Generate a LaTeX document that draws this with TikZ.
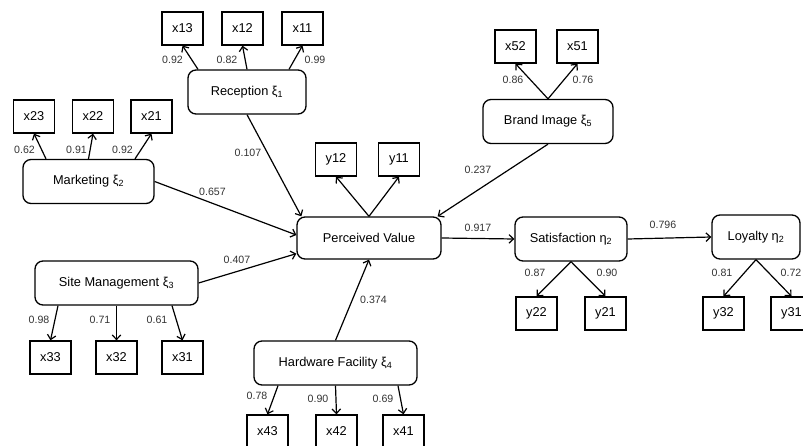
\documentclass[tikz,border=0pt]{standalone}
\usepackage{fontspec}
\setmainfont{Liberation Sans}
\usetikzlibrary{arrows.meta,positioning}

\begin{document}
\begin{tikzpicture}[x=1pt,y=-1pt,
		latent/.style={draw, line width=1.3pt, rounded corners=8pt, minimum height=44pt, inner sep=0pt, font=\fontsize{12.8}{14}\selectfont},
		item/.style={draw, line width=1.3pt, minimum width=41pt, minimum height=33pt, inner sep=0pt, font=\fontsize{12.8}{14}\selectfont},
		coef/.style={inner sep=0pt, text=black!80, font=\fontsize{10.6}{12}\selectfont},
		conn/.style={line width=1.2pt, -{Straight Barb[length=4.5pt,width=8.5pt]}}]
		\useasboundingbox (0,0) rectangle (803,446);
		\node [latent, minimum width=118pt](rec) at (247,92) {Reception ξ\textsubscript{1}};
		\node [latent, minimum width=131pt](mkt) at (88.5,181.5) {Marketing ξ\textsubscript{2}};
		\node [latent, minimum width=163pt](site) at (116.5,283) {Site Management ξ\textsubscript{3}};
		\node [latent, minimum width=163pt](hw) at (335.5,363) {Hardware Facility ξ\textsubscript{4}};
		\node [latent, minimum width=130pt](brand) at (548,121.5) {Brand Image ξ\textsubscript{5}};
		\node [latent, minimum width=144pt, minimum height=42pt](pv) at (369,238) {Perceived Value};
		\node [latent, minimum width=112pt](sat) at (571,239) {Satisfaction η\textsubscript{2}};
		\node [latent, minimum width=88pt](loy) at (756,237) {Loyalty η\textsubscript{2}};
		\node [item](x13) at (182.5,28.5) {x13};
		\node [item](x12) at (242.5,28.5) {x12};
		\node [item](x11) at (302.5,28.5) {x11};
		\node [item](x23) at (34,116.5) {x23};
		\node [item](x22) at (93,116.5) {x22};
		\node [item](x21) at (151.5,116.5) {x21};
		\node [item](x52) at (515.5,46.5) {x52};
		\node [item](x51) at (577.5,46.5) {x51};
		\node [item](y12) at (336,159.5) {y12};
		\node [item](y11) at (399,159.5) {y11};
		\node [item](y22) at (536.5,313.5) {y22};
		\node [item](y21) at (605.5,313.5) {y21};
		\node [item](y32) at (723.5,313.5) {y32};
		\node [item](y31) at (791.5,313.5) {y31};
		\node [item](x33) at (50.5,357.5) {x33};
		\node [item](x32) at (116.5,357.5) {x32};
		\node [item](x31) at (182.5,357.5) {x31};
		\node [item](x43) at (267.5,431.5) {x43};
		\node [item](x42) at (336.5,431.5) {x42};
		\node [item](x41) at (403.5,431.5) {x41};
		\draw [conn] ([xshift=-49pt]rec.north) -- (x13.south);
		\draw [conn] (rec.north) -- (x12.south);
		\draw [conn] ([xshift=42pt]rec.north) -- (x11.south);
		\draw [conn] ([xshift=-42.5pt]mkt.north) -- (x23.south);
		\draw [conn] (mkt.north) -- (x22.south);
		\draw [conn] ([xshift=46.5pt]mkt.north) -- (x21.south);
		\draw [conn] (brand.north) -- (x52.south);
		\draw [conn] (brand.north) -- (x51.south);
		\draw [conn] (pv.north) -- (y12.south);
		\draw [conn] (pv.north) -- (y11.south);
		\draw [conn] (sat.south) -- (y22.north);
		\draw [conn] (sat.south) -- (y21.north);
		\draw [conn] (loy.south) -- (y32.north);
		\draw [conn] (loy.south) -- (y31.north);
		\draw [conn] ([xshift=-58.5pt]site.south) -- (x33.north);
		\draw [conn] (site.south) -- (x32.north);
		\draw [conn] ([xshift=55.5pt]site.south) -- (x31.north);
		\draw [conn] ([xshift=-57.5pt]hw.south) -- (x43.north);
		\draw [conn] (hw.south) -- (x42.north);
		\draw [conn] ([xshift=62.5pt]hw.south) -- (x41.north);
		\draw [conn] (rec.south) -- ([xshift=5pt]pv.north west);
		\draw [conn] (mkt.east) -- ([yshift=3pt]pv.west);
		\draw [conn] (site.east) -- ([yshift=6pt]pv.south west);
		\draw [conn] (hw.north) -- (pv.south);
		\draw [conn] (brand.south) -- ([xshift=-4pt]pv.north east);
		\draw [conn] (pv.east) -- (sat.west);
		\draw [conn] (sat.east) -- (loy.west);
		\node [coef](l13) at (172.5,60) {0.92};
		\node [coef](l12) at (227,60) {0.82};
		\node [coef](l11) at (315,60) {0.99};
		\node [coef](l23) at (24.5,150) {0.62};
		\node [coef](l22) at (76.5,150) {0.91};
		\node [coef](l21) at (122.5,150) {0.92};
		\node [coef](l52) at (513,80) {0.86};
		\node [coef](l51) at (583,80) {0.76};
		\node [coef](l22y) at (535,273) {0.87};
		\node [coef](l21y) at (607,273) {0.90};
		\node [coef](l32y) at (722,273) {0.81};
		\node [coef](l31y) at (791,273) {0.72};
		\node [coef](l33) at (39,320) {0.98};
		\node [coef](l32) at (100,320) {0.71};
		\node [coef](l31) at (157,320) {0.61};
		\node [coef](l43) at (257,396) {0.78};
		\node [coef](l42) at (318,399) {0.90};
		\node [coef](l41) at (383,399) {0.69};
		\node [coef](b_rec) at (248,153) {0.107};
		\node [coef](b_mkt) at (212.5,192) {0.657};
		\node [coef](b_site) at (237,260) {0.407};
		\node [coef](b_hw) at (373.5,300) {0.374};
		\node [coef](b_brand) at (478,170) {0.237};
		\node [coef](b_pv) at (478,228) {0.917};
		\node [coef](b_sat) at (663,225) {0.796};
\end{tikzpicture}
\end{document}
